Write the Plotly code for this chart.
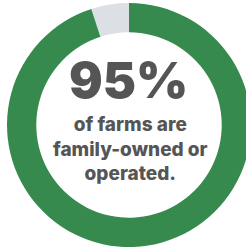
import plotly.graph_objects as go

labels = ["Other", "Family-owned or operated"]
values = [5, 95]
colors = ["#dcdfe4", "#368a4e"]
headline = "95%"
subtext = "of farms are<br>family-owned or<br>operated."

W, H = 258, 251
fig = go.Figure(go.Pie(
    labels=labels, values=values, hole=0.76, sort=False,
    direction="counterclockwise", rotation=0,
    marker=dict(colors=colors, line=dict(width=0)),
    textinfo="none", hoverinfo="none", showlegend=False,
    domain=dict(x=[7/W, 251/W], y=[0.016, 0.988]),
))
fig.update_traces(direction="clockwise", rotation=-18)
fig.add_annotation(x=128/W, y=1-80/H, xref="paper", yref="paper", text=headline,
                   xanchor="center", yanchor="middle",
                   showarrow=False, font=dict(family="Inter", size=50, color="#555555", weight=900))
fig.add_annotation(x=130/W, y=1-149/H, xref="paper", yref="paper", text=subtext,
                   xanchor="center", yanchor="middle",
                   showarrow=False, align="center",
                   font=dict(family="Inter", size=19, color="#555555", weight=800))
fig.update_layout(width=W, height=H, margin=dict(l=0, r=0, t=0, b=0),
                  paper_bgcolor="white", plot_bgcolor="white")
fig.write_html("out.html", config={"displayModeBar": False},
               post_script="document.body.style.margin='0';document.body.style.overflow='hidden';")
